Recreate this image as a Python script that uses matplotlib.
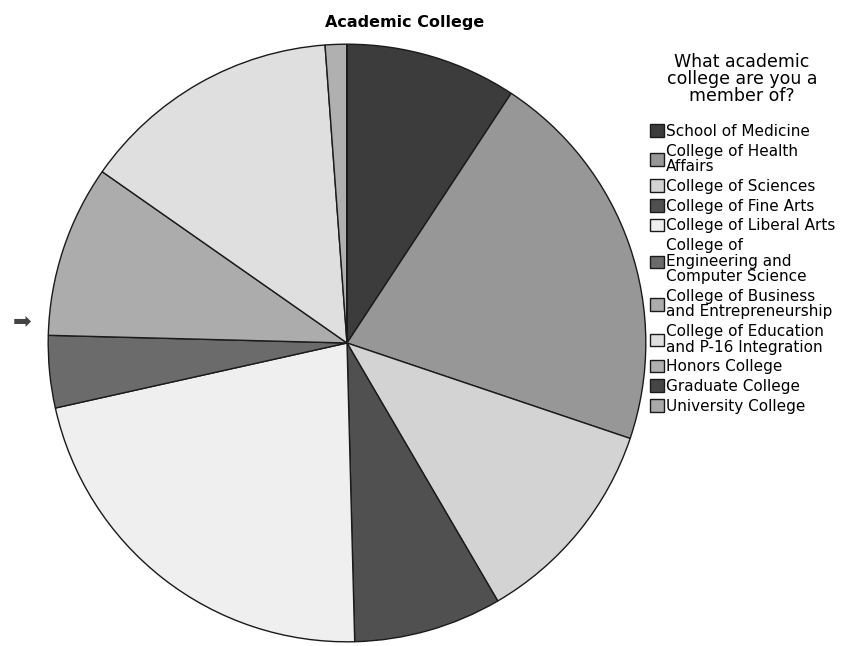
import matplotlib.pyplot as plt

# share of respondents per college (percent)
colleges = ["School of Medicine", "College of Health\nAffairs", "College of Sciences",
            "College of Fine Arts", "College of Liberal Arts",
            "College of\nEngineering and\nComputer Science",
            "College of Business\nand Entrepreneurship",
            "College of Education\nand P-16 Integration",
            "Honors College", "Graduate College", "University College"]
shares = [9.25, 20.9, 11.4, 8.0, 21.9, 3.9, 9.3, 14.1, 1.17, 0.0, 0.0]
greys = ["#3c3c3c", "#979797", "#d3d3d3", "#505050", "#efefef", "#6b6b6b",
         "#acacac", "#dfdfdf", "#b0b0b0", "#464646", "#a9a9a9"]

fig = plt.figure(figsize=(8.41, 6.46), dpi=100)
r = 1.004
ax = fig.add_axes([47 / 841, 3 / 646, 600 / 841, 600 / 646])
wedges, _ = ax.pie(shares, colors=greys, startangle=90, counterclock=False,
                   wedgeprops=dict(edgecolor="#1a1a1a", linewidth=1.0))
ax.set_xlim(-r, r)
ax.set_ylim(-r, r)
ax.set_aspect("equal")

fig.text(405 / 841, 1 - 22 / 646, "Academic College", ha="center", va="center",
         fontsize=11.5, fontweight="bold")

# little arrow on the left edge
fig.text(22 / 841, 1 - 322 / 646, "\u27a1", ha="center", va="center",
         fontsize=16, color="#444444")

# legend heading drawn on its own so the gap below it can be set
fig.text(742 / 841, 1 - 79 / 646, "What academic\ncollege are you a\nmember of?",
         ha="center", va="center", multialignment="center",
         fontsize=12.5, linespacing=0.95)

leg = fig.legend(wedges, colleges, loc="upper left",
                 bbox_to_anchor=(650 / 841, 1 - 124 / 646),
                 fontsize=11.0, frameon=False,
                 handlelength=0.9, handleheight=0.9, handletextpad=0.15,
                 labelspacing=0.31, borderaxespad=0, borderpad=0)
for t in leg.get_texts():
    t.set_linespacing(1.04)
for h in leg.legend_handles:
    h.set_edgecolor("#1a1a1a")

fig.savefig("out.png", dpi=100)
